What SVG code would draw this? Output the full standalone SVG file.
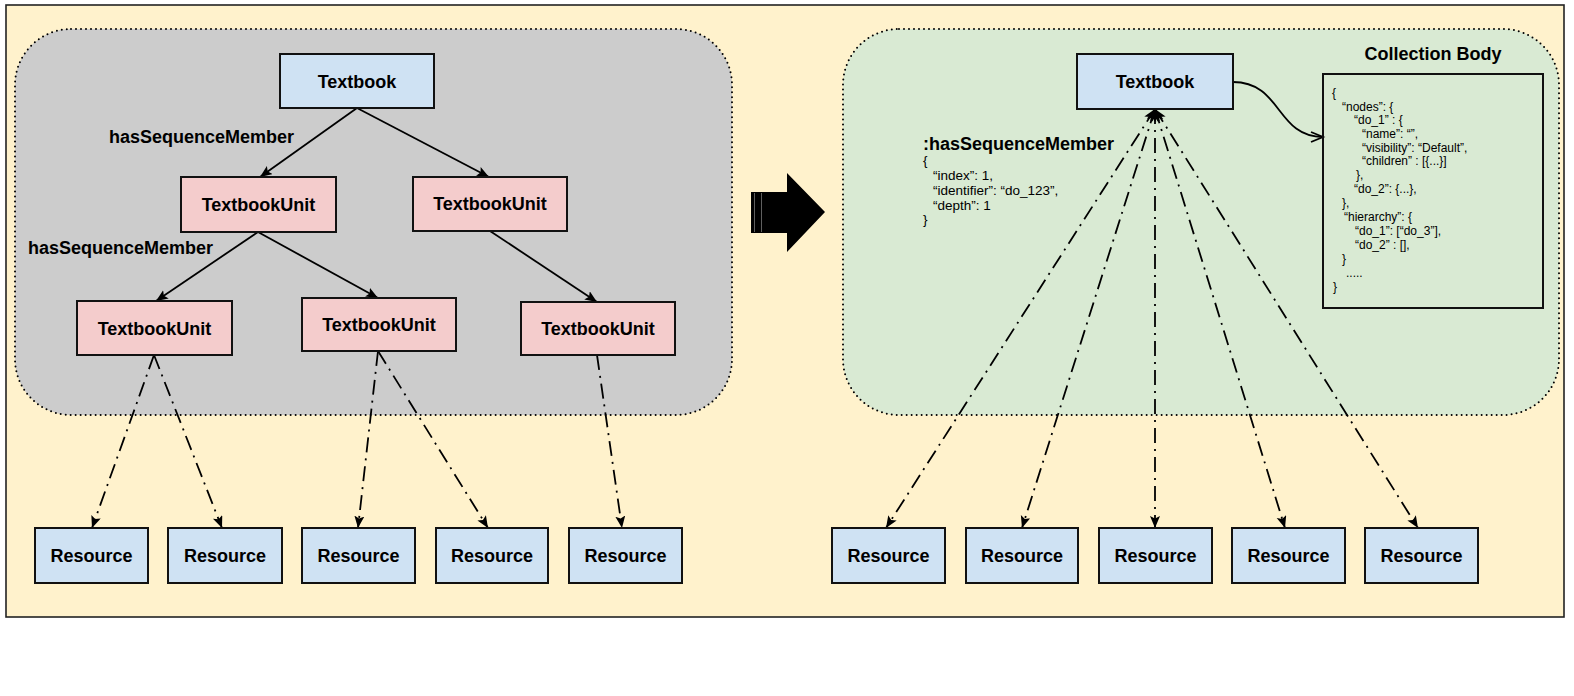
<svg xmlns="http://www.w3.org/2000/svg" width="1574" height="696" viewBox="0 0 1574 696">
<style>
.box{stroke:#111;stroke-width:2}
.blue{fill:#cfe2f3}
.pink{fill:#f4cccc}
.t{font-family:"Liberation Sans",Arial,sans-serif;font-weight:bold;font-size:18px;fill:#000}
.c{text-anchor:middle}
.j{font-family:"Liberation Sans",Arial,sans-serif;font-size:13.5px;fill:#000}
.j2{font-family:"Liberation Sans",Arial,sans-serif;font-size:12px;fill:#000}
.solid{fill:none;stroke:#000;stroke-width:1.8}
.dd{fill:none;stroke:#000;stroke-width:1.8;stroke-dasharray:15 6 2 6}
.region{stroke:#000;stroke-width:2;stroke-dasharray:0 5;stroke-linecap:round}
</style>
<defs>
<marker id="arr" markerUnits="userSpaceOnUse" markerWidth="14" markerHeight="12" refX="12" refY="5" orient="auto-start-reverse" viewBox="0 0 14 12">
<path d="M0,0 L12,5 L0,10 L2.5,5 z" fill="#000"/>
</marker>
<marker id="open" markerUnits="userSpaceOnUse" markerWidth="16" markerHeight="14" refX="13" refY="6" orient="auto" viewBox="0 0 16 14">
<path d="M1,1 L13,6 L1,11" fill="none" stroke="#000" stroke-width="1.8"/>
</marker>
</defs>
<rect x="0" y="0" width="1574" height="696" fill="#fff"/>
<rect id="frame" x="6" y="5" width="1558" height="612" fill="#fff2cc" stroke="#222" stroke-width="1.6"/>
<g id="left-region"><rect x="15" y="29" width="717" height="386" rx="56" ry="56" fill="#cccccc" class="region"/></g>
<g id="right-region"><rect x="843" y="29" width="716" height="386" rx="56" ry="56" fill="#d9ead3" class="region"/></g>
<g id="transform-arrow">
<polygon points="751,192 787,192 787,173 825,212 787,252 787,233 751,233" fill="#000"/>
<line x1="754.5" y1="193" x2="754.5" y2="232" stroke="#777" stroke-width="0.8"/>
<line x1="761.5" y1="193" x2="761.5" y2="232" stroke="#777" stroke-width="0.8"/>
</g>
<g id="connectors">
<path class="solid" d="M357,108 L260,177" marker-end="url(#arr)"/>
<path class="solid" d="M357,108 L489,177" marker-end="url(#arr)"/>
<path class="solid" d="M258,232 L156,301" marker-end="url(#arr)"/>
<path class="solid" d="M258,232 L378,298" marker-end="url(#arr)"/>
<path class="solid" d="M490,231 L597,302" marker-end="url(#arr)"/>
<path class="dd" d="M154,355 L92,528" marker-end="url(#arr)"/>
<path class="dd" d="M154,355 L222,528" marker-end="url(#arr)"/>
<path class="dd" d="M378,351 L358,528" marker-end="url(#arr)"/>
<path class="dd" d="M378,351 L488,528" marker-end="url(#arr)"/>
<path class="dd" d="M597,355 L622,528" marker-end="url(#arr)"/>
<path class="dd" d="M1155,109 L886,528" marker-start="url(#arr)" marker-end="url(#arr)"/>
<path class="dd" d="M1155,109 L1022,528" marker-start="url(#arr)" marker-end="url(#arr)"/>
<path class="dd" d="M1155,109 L1155,528" marker-start="url(#arr)" marker-end="url(#arr)"/>
<path class="dd" d="M1155,109 L1285,528" marker-start="url(#arr)" marker-end="url(#arr)"/>
<path class="dd" d="M1155,109 L1418,528" marker-start="url(#arr)" marker-end="url(#arr)"/>
<path class="solid" d="M1233,82 C1282,82 1276,137 1323,137" marker-end="url(#open)"/>
</g>
<g id="labels">
<text class="t" x="109" y="143">hasSequenceMember</text>
<text class="t" x="28" y="254">hasSequenceMember</text>
<text class="t" x="923" y="150">:hasSequenceMember</text>
<text class="j" x="923" y="165">{</text>
<text class="j" x="933" y="180">“index”: 1,</text>
<text class="j" x="933" y="195">“identifier”: “do_123”,</text>
<text class="j" x="933" y="210">“depth”: 1</text>
<text class="j" x="923" y="224">}</text>
<text class="t c" x="1433" y="60">Collection Body</text>
</g>
<g id="n-textbook-left"><rect class="box blue" x="280" y="54" width="154" height="54"/><text class="t c" x="357" y="88">Textbook</text></g>
<g id="n-unit-1"><rect class="box pink" x="181" y="177" width="155" height="55"/><text class="t c" x="258.5" y="211">TextbookUnit</text></g>
<g id="n-unit-2"><rect class="box pink" x="413" y="177" width="154" height="54"/><text class="t c" x="490" y="210">TextbookUnit</text></g>
<g id="n-unit-3"><rect class="box pink" x="77" y="301" width="155" height="54"/><text class="t c" x="154.5" y="335">TextbookUnit</text></g>
<g id="n-unit-4"><rect class="box pink" x="302" y="298" width="154" height="53"/><text class="t c" x="379" y="331">TextbookUnit</text></g>
<g id="n-unit-5"><rect class="box pink" x="521" y="302" width="154" height="53"/><text class="t c" x="598" y="335">TextbookUnit</text></g>
<g id="n-res-l1"><rect class="box blue" x="35" y="528" width="113" height="55"/><text class="t c" x="91.5" y="562">Resource</text></g>
<g id="n-res-l2"><rect class="box blue" x="168" y="528" width="114" height="55"/><text class="t c" x="225" y="562">Resource</text></g>
<g id="n-res-l3"><rect class="box blue" x="302" y="528" width="113" height="55"/><text class="t c" x="358.5" y="562">Resource</text></g>
<g id="n-res-l4"><rect class="box blue" x="436" y="528" width="112" height="55"/><text class="t c" x="492" y="562">Resource</text></g>
<g id="n-res-l5"><rect class="box blue" x="569" y="528" width="113" height="55"/><text class="t c" x="625.5" y="562">Resource</text></g>
<g id="n-textbook-right"><rect class="box blue" x="1077" y="54" width="156" height="55"/><text class="t c" x="1155" y="88">Textbook</text></g>
<g id="n-collection-body"><rect class="box" x="1323" y="74" width="220" height="234" fill="none"/>
<text class="j2" x="1332" y="97">{</text>
<text class="j2" x="1342" y="111">“nodes”: {</text>
<text class="j2" x="1354" y="124">“do_1” : {</text>
<text class="j2" x="1362" y="138">“name”: “”,</text>
<text class="j2" x="1362" y="152">“visibility”: “Default”,</text>
<text class="j2" x="1362" y="165">“children” : [{...}]</text>
<text class="j2" x="1356" y="179">},</text>
<text class="j2" x="1354" y="193">“do_2”: {...},</text>
<text class="j2" x="1342" y="207">},</text>
<text class="j2" x="1344" y="221">“hierarchy”: {</text>
<text class="j2" x="1355" y="235">“do_1”: [“do_3”],</text>
<text class="j2" x="1355" y="249">“do_2” : [],</text>
<text class="j2" x="1342" y="263">}</text>
<text class="j2" x="1346" y="277">.....</text>
<text class="j2" x="1333" y="291">}</text>
</g>
<g id="n-res-r1"><rect class="box blue" x="832" y="528" width="113" height="55"/><text class="t c" x="888.5" y="562">Resource</text></g>
<g id="n-res-r2"><rect class="box blue" x="966" y="528" width="112" height="55"/><text class="t c" x="1022" y="562">Resource</text></g>
<g id="n-res-r3"><rect class="box blue" x="1099" y="528" width="113" height="55"/><text class="t c" x="1155.5" y="562">Resource</text></g>
<g id="n-res-r4"><rect class="box blue" x="1232" y="528" width="113" height="55"/><text class="t c" x="1288.5" y="562">Resource</text></g>
<g id="n-res-r5"><rect class="box blue" x="1365" y="528" width="113" height="55"/><text class="t c" x="1421.5" y="562">Resource</text></g>
</svg>
